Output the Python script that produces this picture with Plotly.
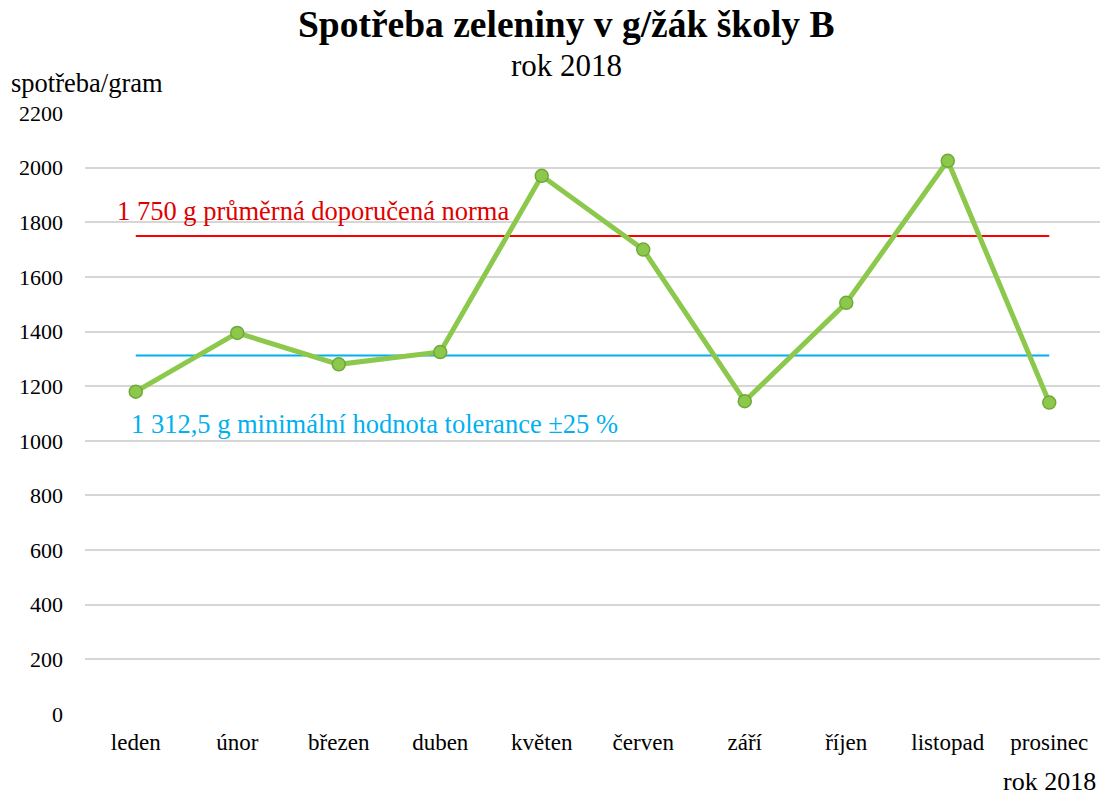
import plotly.graph_objects as go

months = ["leden", "únor", "březen", "duben", "květen", "červen", "září", "říjen", "listopad", "prosinec"]
consumption = [1180, 1395, 1280, 1325, 1970, 1700, 1145, 1505, 2025, 1140]
norm_value = 1750
tolerance_value = 1312.5
y_ticks = [0, 200, 400, 600, 800, 1000, 1200, 1400, 1600, 1800, 2000, 2200]

FONT = "Liberation Serif, Times New Roman, serif"
xs = list(range(len(months)))

# plot area in page pixels
PL, PR, PT, PB = 85, 1100, 113, 714
W, H = 1105, 796


def px(X):
    return (X - PL) / (PR - PL)


def py(Y):
    return (PB - Y) / (PB - PT)


def yval(Y):
    return (PB - Y) / (PB - PT) * 2200


fig = go.Figure()
fig.add_trace(go.Scatter(x=[xs[0], xs[-1]], y=[norm_value, norm_value], mode="lines",
                         line=dict(color="#FF0000", width=2), hoverinfo="skip"))
fig.add_trace(go.Scatter(x=[xs[0], xs[-1]], y=[tolerance_value, tolerance_value], mode="lines",
                         line=dict(color="#00B0F0", width=2), hoverinfo="skip"))
fig.add_trace(go.Scatter(x=xs, y=consumption, mode="lines+markers",
                         line=dict(color="#8CC84B", width=5),
                         marker=dict(size=13, color="#8CC84B", line=dict(color="#70A83A", width=1.5))))

fig.update_layout(
    width=W, height=H,
    margin=dict(l=PL, r=W - PR, t=PT, b=H - PB, autoexpand=False),
    paper_bgcolor="white", plot_bgcolor="white",
    showlegend=False,
    font=dict(family=FONT, color="#000000"),
    xaxis=dict(range=[-0.5, 9.5], tickmode="array", tickvals=xs, ticktext=months,
               showgrid=False, zeroline=False, showline=False,
               tickfont=dict(size=23, family=FONT), ticks="", ticklen=0,
               ticklabelstandoff=12),
    yaxis=dict(range=[0, 2200], tickmode="array", tickvals=y_ticks,
               ticktext=[str(v) for v in y_ticks],
               showgrid=True, gridcolor="#D6D6D6", gridwidth=1.5,
               zeroline=False, showline=False, ticks="",
               tickfont=dict(size=22, family=FONT), ticklabelstandoff=21),
    annotations=[
        dict(text="<b>Spotřeba zeleniny v g/žák školy B</b>", xref="paper", yref="paper",
             x=px(566), y=py(25), xanchor="center", yanchor="middle",
             showarrow=False, font=dict(size=37.5, family=FONT)),
        dict(text="rok 2018", xref="paper", yref="paper",
             x=px(566), y=py(65), xanchor="center", yanchor="middle",
             showarrow=False, font=dict(size=31, family=FONT)),
        dict(text="spotřeba/gram", xref="paper", yref="paper",
             x=px(9), y=py(83), xanchor="left", yanchor="middle",
             showarrow=False, font=dict(size=26.5, family=FONT)),
        dict(text="rok 2018", xref="paper", yref="paper",
             x=px(1098), y=py(782), xanchor="right", yanchor="middle",
             showarrow=False, font=dict(size=26, family=FONT)),
        dict(text="1 750 g průměrná doporučená norma", xref="paper", yref="y",
             x=px(115), y=yval(211), xanchor="left", yanchor="middle",
             showarrow=False, font=dict(size=26.5, family=FONT, color="#E00000")),
        dict(text="1 312,5 g minimální hodnota tolerance ±25 %", xref="paper", yref="y",
             x=px(129), y=yval(424), xanchor="left", yanchor="middle",
             showarrow=False, font=dict(size=26.5, family=FONT, color="#00B0F0")),
    ],
)

fig.write_html("out.html", config={"displayModeBar": False},
               post_script="document.body.style.margin='0';")
